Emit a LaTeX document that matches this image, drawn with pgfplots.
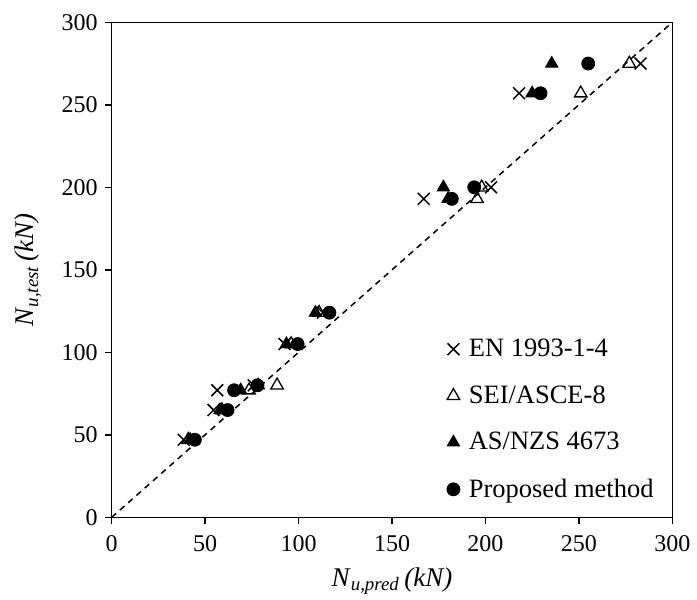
\documentclass[border=0pt]{standalone}
\usepackage{fontspec}
\setmainfont{Liberation Serif}
\usepackage{pgfplots}
\pgfplotsset{compat=1.18}
\begin{document}
\begin{tikzpicture}
\begin{axis}[
  name=ax,
  scale only axis,
  width=280.3bp, height=247.5bp,
  xmin=0,xmax=300,ymin=0,ymax=300,
  xtick={0,50,...,300}, ytick={0,50,...,300},
  tick align=outside, tick pos=left,
  major tick length=3.5bp,
  axis line style={line width=0.7bp},
  every tick/.style={line width=0.7bp, black},
  /pgf/number format/assume math mode=true,
  tick label style={font=\fontsize{12bp}{14bp}\selectfont},
  xticklabel style={yshift=-2bp},
  xlabel={\textit{N}\textsubscript{\textit{u,pred}}\,\textit{(kN)}},
  ylabel={\textit{N}\textsubscript{\textit{u,test}}\,\textit{(kN)}},
  every axis x label/.style={at={(axis description cs:0.5,-0.1388)},anchor=base,
    font=\fontsize{13.5bp}{15bp}\selectfont},
  every axis y label/.style={at={(axis description cs:-0.149,0.5)},rotate=90,anchor=center,
    font=\fontsize{13.5bp}{15bp}\selectfont},
  legend style={draw=none, fill=none, at={(0.585,0.022)}, anchor=south west,
    font=\fontsize{13.25bp}{15bp}\selectfont, row sep=11bp, nodes={inner sep=1bp}},
  legend cell align=left,
  legend image code/.code={\draw[#1] plot coordinates {(0bp,0bp)}; \path (-3.5bp,0bp) (6.5bp,0bp);},
]
\addplot[black, line width=0.75bp, dash pattern=on 3bp off 2.5bp, forget plot] coordinates {(0,0)(300,300)};
\addplot[only marks, mark=x, mark size=4.2bp, mark options={line width=0.75bp, black}] coordinates {
(38.5,47)(54.5,65)(56.5,77)(76,80)(92.5,105)(113,124)(167,193)(203,200)(218,257)(283,275)};
\addplot[only marks, mark=triangle, mark size=3.6bp, mark options={line width=0.65bp, black, fill=white}] coordinates {
(41,47)(59,65)(73.5,77)(88.5,80)(96,105)(111,124)(195.5,193)(198,200)(251,257)(277,275)};
\addplot[only marks, mark=triangle*, mark size=3.6bp, mark options={black, fill=black}] coordinates {
(42,47)(58,65)(69,77)(78.5,80)(93.5,105)(109,124)(180,193)(177.5,200)(225,257)(235.5,275)};
\addplot[only marks, mark=*, mark size=3.25bp, mark options={black, fill=black}] coordinates {
(44.5,47)(62,65)(65.5,77)(78,80)(99.5,105)(116.5,124)(182,193)(194,200)(229.5,257)(255,275)};
\legend{EN 1993-1-4, SEI/ASCE-8, AS/NZS 4673, Proposed method}
\end{axis}
\pgfresetboundingbox
\path[use as bounding box] ([shift={(-55.85bp,-41.35bp)}]ax.south west) rectangle ([shift={(12.35bp,11.15bp)}]ax.north east);
\end{tikzpicture}
\end{document}
